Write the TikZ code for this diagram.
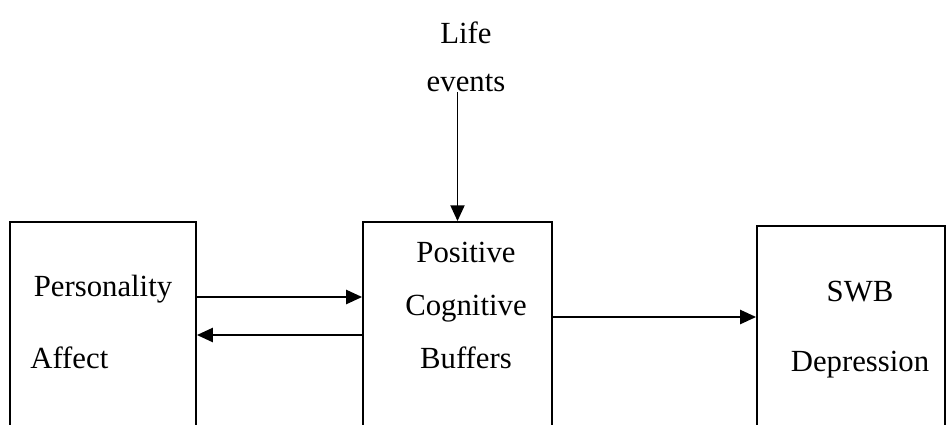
\documentclass[tikz,border=0pt]{standalone}
\usepackage{fontspec}
\setmainfont{Liberation Serif}
\usetikzlibrary{arrows.meta, positioning}

\begin{document}
\begin{tikzpicture}[x=0.02cm, y=-0.02cm,
  font=\fontsize{17.5}{21}\selectfont,
  stagebox/.style={draw, line width=1.1pt, minimum width=3.72cm, minimum height=5cm, inner sep=0pt},
  lbl/.style={anchor=base, inner sep=0pt},
  arr/.style={line width=1.1pt, -{Triangle[length=9pt, width=8pt]}}
]
  \useasboundingbox (0,0) rectangle (950,424);
  \clip (0,0) rectangle (950,424);

  % Boxes (bottoms run off the page)
  \node[stagebox] (person) at (103,347) {};
  \node[stagebox, minimum width=3.78cm] (buffer) at (457.5,347) {};
  \node[stagebox, minimum width=3.76cm] (outcome) at (851,351) {};

  % Personality / Affect
  \node[lbl] (personality) at (103,296) {Personality};
  \node[lbl, anchor=base west] (affect) at (30,368) {Affect};

  % Positive Cognitive Buffers
  \node[lbl] (positive) at (466,262) {Positive};
  \node[lbl] (cognitive) at (466,315) {Cognitive};
  \node[lbl] (buffers) at (466,368) {Buffers};

  % SWB / Depression
  \node[lbl] (swb) at (860,301) {SWB};
  \node[lbl] (depression) at (860,371) {Depression};

  % Life events
  \node[align=center, anchor=south, inner sep=0pt, font=\fontsize{17.5}{27.2}\selectfont] (life) at (466,92) {Life\\events};

  % Connectors
  \draw[arr] (person.east |- 0,297) -- (buffer.west |- 0,297);
  \draw[arr] (buffer.west |- 0,335) -- (person.east |- 0,335);
  \draw[arr] (buffer.east |- 0,317) -- (outcome.west |- 0,317);
  \draw[arr] (life.south -| buffer.north) -- (buffer.north);
\end{tikzpicture}
\end{document}
